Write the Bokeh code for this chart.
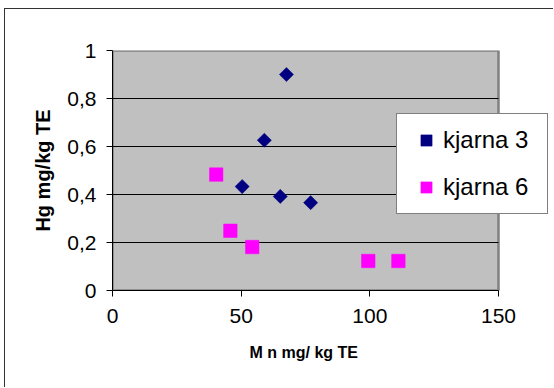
import math
from bokeh.plotting import figure
from bokeh.models import Range1d, FixedTicker, Legend, LegendItem, Title
from bokeh.embed import file_html
from bokeh.resources import INLINE

# Data
k3_x = [67.6, 59.0, 50.4, 65.2, 77.0]
k3_y = [0.90, 0.626, 0.433, 0.392, 0.366]
k6_x = [40.3, 45.8, 54.3, 99.4, 111.1]
k6_y = [0.483, 0.249, 0.181, 0.123, 0.123]

x_ticks = [0, 50, 100, 150]
y_ticks = [0, 0.2, 0.4, 0.6, 0.8, 1.0]
y_tick_labels = ["0", "0,2", "0,4", "0,6", "0,8", "1"]
series_names = ["kjarna 3", "kjarna 6"]
x_label = "M n mg/ kg TE"
y_label = "Hg mg/kg TE"

FONT = "Liberation Sans"

# figure sits inside an outer chart border (offset 4px left, 8px top)
OFF_X, OFF_Y = 5, 9
W, H = 554 - OFF_X, 388 - OFF_Y
frame_l, frame_t, frame_b = 112 - OFF_X, 50 - OFF_Y, 290 - OFF_Y
plot_right_px = 498 - OFF_X
x_min, x_max = x_ticks[0], x_ticks[-1]
x_end = x_min + (x_max - x_min) * (W - frame_l) / (plot_right_px - frame_l)

p = figure(width=W, height=H, output_backend="svg", toolbar_location=None,
           x_range=Range1d(x_min, x_end), y_range=Range1d(y_ticks[0], y_ticks[-1]),
           min_border_left=frame_l, min_border_right=0,
           min_border_top=frame_t, min_border_bottom=H - frame_b)
p.margin = (8, 0, 0, 4)
p.styles = {"border-left": "1px solid #333333", "border-top": "1px solid #333333"}
p.background_fill_color = "white"
p.border_fill_color = "white"
p.outline_line_color = None

# plot area (grey) with its outline
area = p.quad(left=[x_min], right=[x_max], bottom=[y_ticks[0]], top=[y_ticks[-1]],
              fill_color="#C0C0C0", line_color="#808080", line_width=2.5)
area.level = "underlay"

# grid lines only across the plot area
p.xgrid.visible = False
p.ygrid.visible = False
gy = y_ticks[1:-1]
p.segment(x0=[x_min] * len(gy), x1=[x_max] * len(gy), y0=gy, y1=gy,
          line_color="black", line_width=1)

# axes
for ax in (p.xaxis[0], p.yaxis[0]):
    ax.axis_line_color = "black"
    ax.axis_line_width = 1
    ax.major_tick_line_color = "black"
    ax.major_tick_out = 6
    ax.major_tick_in = 0
    ax.minor_tick_line_color = None
    ax.major_label_text_font = FONT
    ax.major_label_text_font_size = "21px"
    ax.major_label_text_color = "black"
    ax.axis_label_text_font = FONT
    ax.axis_label_text_font_style = "bold"
    ax.axis_label_text_color = "black"

p.xaxis.ticker = FixedTicker(ticks=x_ticks)
p.xaxis.bounds = (x_min, x_max)
p.yaxis.ticker = FixedTicker(ticks=y_ticks)
p.yaxis.major_label_overrides = {t: lab for t, lab in zip(y_ticks, y_tick_labels)}
p.xaxis.major_label_standoff = 12
p.yaxis.major_label_standoff = 10

p.yaxis.axis_label = y_label
p.yaxis.axis_label_text_font_size = "20px"
p.yaxis.axis_label_standoff = 10

# x-axis title, centred under the grey plot area (frame extends further right)
p.add_layout(Title(text=x_label, align="left", offset=137, standoff=32,
                   text_font=FONT, text_font_style="bold",
                   text_font_size="16px", text_color="black"), "below")

r3 = p.scatter(k3_x, k3_y, marker="square", angle=math.pi / 4, size=10,
               fill_color="#000080", line_color="#000080", line_width=0.5)
r6 = p.scatter(k6_x, k6_y, marker="square", size=13.5,
               fill_color="#FF00FF", line_color="#FF00FF", line_width=0.5)

legend = Legend(items=[LegendItem(label=series_names[0], renderers=[r3]),
                       LegendItem(label=series_names[1], renderers=[r6])],
                location=(284, 76), margin=0, padding=12, spacing=19,
                glyph_width=34, glyph_height=28, label_standoff=0,
                label_width=92, label_text_font=FONT,
                label_text_font_size="24px", label_text_color="black",
                border_line_color="black", border_line_width=1,
                background_fill_color="white", background_fill_alpha=1)
p.add_layout(legend, "center")

open("out.html", "w").write(file_html(p, INLINE))
